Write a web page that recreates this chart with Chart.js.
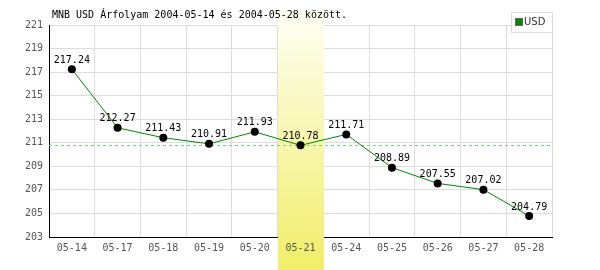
<!DOCTYPE html>
<html>
<head>
<meta charset="utf-8">
<script src="https://cdn.jsdelivr.net/npm/chart.js@4"></script>
<style>
  html, body { margin: 0; padding: 0; background: #fff; }
  #wrap { width: 600px; height: 270px; }
</style>
</head>
<body>
<div id="wrap"><canvas id="chart" width="600" height="270"></canvas></div>
<script>
const labels = ['05-14', '05-17', '05-18', '05-19', '05-20', '05-21', '05-24', '05-25', '05-26', '05-27', '05-28'];
const usdRates = [217.24, 212.27, 211.43, 210.91, 211.93, 210.78, 211.71, 208.89, 207.55, 207.02, 204.79];
const yTicks = [203, 205, 207, 209, 211, 213, 215, 217, 219, 221];
const highlightDay = '05-21';
const refLevel = 210.78;
const titleText = 'MNB USD Árfolyam 2004-05-14 és 2004-05-28 között.';

const mono = '"DejaVu Sans Mono", monospace';

// yellow column behind the highlighted day, plus the dashed reference line
const highlight = {
    id: 'highlight',
    beforeDatasetsDraw(chart) {
        const { ctx, chartArea, scales } = chart;
        const x = scales.x;
        const idx = labels.indexOf(highlightDay);
        const half = (x.getPixelForValue(1) - x.getPixelForValue(0)) / 2;
        const cx = x.getPixelForValue(idx);
        const grad = ctx.createLinearGradient(0, 10, 0, chart.height);
        grad.addColorStop(0, '#fffff6');
        grad.addColorStop(1, '#f0ee68');
        ctx.save();
        ctx.fillStyle = grad;
        ctx.fillRect(Math.round(cx - half), 10, Math.round(half * 2), chart.height - 10);

        const y = Math.round(scales.y.getPixelForValue(refLevel)) + 0.5;
        ctx.strokeStyle = '#7fd07f';
        ctx.lineWidth = 1;
        ctx.setLineDash([3, 3]);
        ctx.beginPath();
        ctx.moveTo(chartArea.left, y);
        ctx.lineTo(chartArea.right, y);
        ctx.stroke();
        ctx.restore();
    },
    afterDatasetsDraw(chart) {
        const { ctx } = chart;
        const meta = chart.getDatasetMeta(0);
        ctx.save();
        ctx.font = '10px ' + mono;
        ctx.fillStyle = '#000';
        ctx.textAlign = 'center';
        ctx.textBaseline = 'bottom';
        meta.data.forEach((pt, i) => {
            ctx.fillText(usdRates[i].toFixed(2), pt.x, pt.y - 4);
        });

        // title
        ctx.textAlign = 'left';
        ctx.textBaseline = 'middle';
        ctx.fillText(titleText, 52, 15);

        // legend box
        ctx.fillStyle = '#fff';
        ctx.fillRect(511.5, 12.5, 41, 20);
        ctx.strokeStyle = '#dddddd';
        ctx.lineWidth = 1;
        ctx.strokeRect(511.5, 12.5, 41, 20);
        ctx.fillStyle = '#008800';
        ctx.fillRect(516, 19, 6, 6);
        ctx.strokeStyle = '#666';
        ctx.strokeRect(515.5, 18.5, 7, 7);
        ctx.fillStyle = '#333';
        ctx.font = '10px "DejaVu Sans", sans-serif';
        ctx.fillText(chart.data.datasets[0].label, 524, 22.5);
        ctx.restore();
    }
};

new Chart(document.getElementById('chart'), {
    type: 'line',
    data: {
        labels,
        datasets: [{
            label: 'USD',
            data: usdRates,
            borderColor: '#008800',
            borderWidth: 1,
            tension: 0,
            pointRadius: 4,
            pointBackgroundColor: '#000',
            pointBorderColor: '#000',
            pointBorderWidth: 0,
        }],
    },
    options: {
        responsive: false,
        animation: false,
        layout: { padding: { top: 25, right: 48, left: 0, bottom: 0 } },
        plugins: {
            legend: { display: false },
            title: { display: false },
            tooltip: { enabled: false },
        },
        scales: {
            x: {
                offset: true,
                grid: { color: '#dddddd', offset: true, drawTicks: false },
                border: { color: '#000', width: 1 },
                ticks: {
                    z: 1,
                    color: '#555',
                    padding: 5,
                    autoSkip: false,
                    maxRotation: 0,
                    font: { family: mono, size: 10 },
                },
                afterFit(scale) { scale.height = 33; },
            },
            y: {
                min: 203,
                max: 221,
                afterBuildTicks(scale) { scale.ticks = yTicks.map(v => ({ value: v })); },
                grid: { color: '#dddddd', drawTicks: false },
                border: { color: '#000', width: 1 },
                ticks: {
                    color: '#555',
                    padding: 6,
                    font: { family: mono, size: 10 },
                },
                afterFit(scale) { scale.width = 49; },
            },
        },
    },
    plugins: [highlight],
});
</script>
</body>
</html>
